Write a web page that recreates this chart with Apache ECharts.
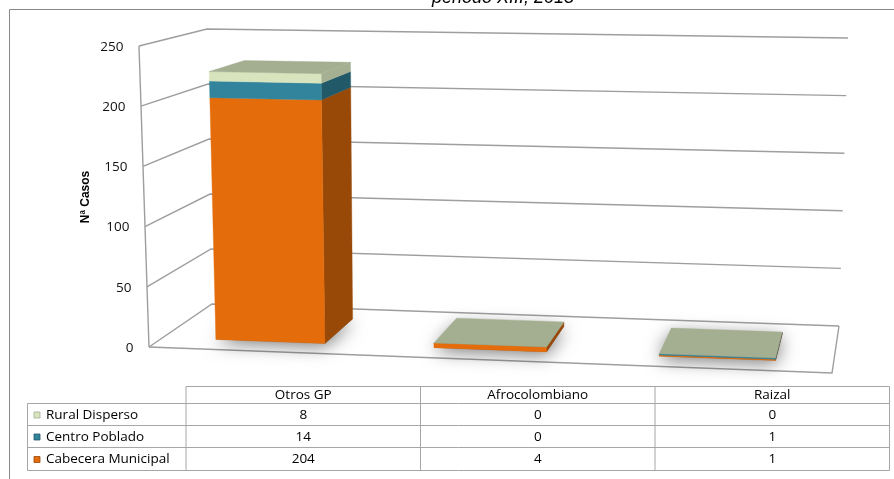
<!DOCTYPE html>
<html>
<head>
<meta charset="utf-8">
<script src="https://cdn.jsdelivr.net/npm/echarts/dist/echarts.min.js"></script>
<style>
  html, body { margin: 0; padding: 0; background: #ffffff; }
  #chart { width: 894px; height: 479px; }
</style>
</head>
<body>
<div id="chart"></div>
<script>
// ---- data ----
const categories = ['Otros GP', 'Afrocolombiano', 'Raizal'];
const cabeceraMunicipal = [204, 4, 1];
const centroPoblado = [14, 0, 1];
const ruralDisperso = [8, 0, 0];
const yTicks = [0, 50, 100, 150, 200, 250];
const seriesNames = ['Cabecera Municipal', 'Centro Poblado', 'Rural Disperso'];
const titleText = 'periodo XIII, 2013';
const axisTitle = 'Nª Casos';

// stacking order, bottom to top
const stacks = [cabeceraMunicipal, centroPoblado, ruralDisperso];

// face colours per series: front, right side, top
const faceColors = [
  { front: '#E46C0A', side: '#984807', top: '#F29A52', key: '#E46C0A' },
  { front: '#31849B', side: '#215968', top: '#4A9BB0', key: '#31849B' },
  { front: '#D7E4BD', side: '#A5B092', top: '#A4AE90', key: '#D7E4BD' }
];

// ---- perspective box: screen corners of the plot cube ----
// F/B = front/back, L/R = left/right, B/T = bottom/top
const BOX = {
  FLB: [149, 347], FLT: [139, 46], FRB: [832, 373], FRT: [843, 58],
  BLB: [212, 304], BLT: [207, 29], BRB: [839, 326], BRT: [848, 38]
};
const DEPTH_FRONT = 0.22, DEPTH_BACK = 0.78;   // bar depth inside the box
const BAR_FRACTION = 0.504;                     // bar width relative to category band
const PERSPECTIVE_K = 1.05;                     // horizontal foreshortening

function lerp2(a, b, t) { return [a[0] + (b[0] - a[0]) * t, a[1] + (b[1] - a[1]) * t]; }
function project(u, v, w) {
  const f = lerp2(lerp2(BOX.FLB, BOX.FRB, u), lerp2(BOX.FLT, BOX.FRT, u), v);
  const b = lerp2(lerp2(BOX.BLB, BOX.BRB, u), lerp2(BOX.BLT, BOX.BRT, u), v);
  return lerp2(f, b, w);
}
function warpU(u) { return u / (PERSPECTIVE_K - (PERSPECTIVE_K - 1) * u); }

// normalised position of a value pair inside the (hidden) cartesian grid
function toUnit(params, api, cat, val) {
  const cs = params.coordSys;
  const p = api.coord([cat, val]);
  return [(p[0] - cs.x) / cs.width, (cs.y + cs.height - p[1]) / cs.height];
}
function halfBand(params, api) {
  return api.size([1, 0])[0] * BAR_FRACTION / 2 / params.coordSys.width;
}
function poly(points, fill, style) {
  return {
    type: 'polygon',
    shape: { points: points },
    style: Object.assign({ fill: fill, stroke: fill, lineWidth: 0.4 }, style || {})
  };
}

// ---- walls, floor, gridlines and value labels ----
function renderWalls(params, api) {
  const t = api.value(1);
  const v = toUnit(params, api, 0, t)[1];
  const gridStyle = { stroke: '#9E9E9E', lineWidth: 1.4, fill: 'none' };
  const fl = project(0, v, 0), bl = project(0, v, 1), br = project(1, v, 1);
  const children = [
    { type: 'polyline', shape: { points: [fl, bl, br] }, style: gridStyle },
    {
      type: 'text', x: fl[0] - 15.5, y: fl[1] + 1,
      style: {
        text: String(t), align: 'right', verticalAlign: 'middle',
        textAlign: 'right', textVerticalAlign: 'middle',
        fontSize: 13.5, fontFamily: 'Open Sans', fill: '#111111'
      }
    }
  ];
  if (t === yTicks[0]) {
    // front edge of the left wall and the visible floor edges
    children.push({ type: 'line', shape: { x1: BOX.FLB[0], y1: BOX.FLB[1], x2: BOX.FLT[0], y2: BOX.FLT[1] }, style: gridStyle });
    children.push({ type: 'polyline', shape: { points: [project(0, v, 0), project(1, v, 0), project(1, v, 1)] }, style: gridStyle });
  }
  return { type: 'group', children: children };
}

// ---- soft shadow on the floor under every column ----
function renderShadow(params, api) {
  const cat = api.value(0);
  const u = toUnit(params, api, cat, 0)[0];
  const h = halfBand(params, api);
  const ua = warpU(u - h), ub = warpU(u + h);
  const pts = [project(ua, 0, DEPTH_FRONT), project(ub, 0, DEPTH_FRONT),
               project(ub, 0, DEPTH_BACK), project(ua, 0, DEPTH_BACK)];
  return poly(pts, 'rgba(90,90,90,0.7)', {
    stroke: null, shadowBlur: 18,
    shadowColor: 'rgba(0,0,0,0.75)', shadowOffsetX: 0, shadowOffsetY: 3
  });
}

// ---- one stacked segment drawn as a box ----
function makeSegmentRenderer(k) {
  return function (params, api) {
    const cat = api.value(0);
    let base = 0;
    for (let j = 0; j < k; j++) base += stacks[j][cat];
    const top = base + api.value(1);
    const p0 = toUnit(params, api, cat, base);
    const p1 = toUnit(params, api, cat, top);
    const h = halfBand(params, api);
    const ua = warpU(p0[0] - h), ub = warpU(p0[0] + h);
    const v0 = p0[1], v1 = p1[1];
    const c = faceColors[k];
    const children = [];
    if (v1 > v0) {
      // right side
      children.push(poly([project(ub, v0, DEPTH_FRONT), project(ub, v0, DEPTH_BACK),
                          project(ub, v1, DEPTH_BACK), project(ub, v1, DEPTH_FRONT)], c.side));
      // front
      children.push(poly([project(ua, v0, DEPTH_FRONT), project(ub, v0, DEPTH_FRONT),
                          project(ub, v1, DEPTH_FRONT), project(ua, v1, DEPTH_FRONT)], c.front));
    }
    // top lid only on the uppermost series of the stack
    if (k === stacks.length - 1) {
      children.push(poly([project(ua, v1, DEPTH_FRONT), project(ub, v1, DEPTH_FRONT),
                          project(ub, v1, DEPTH_BACK), project(ua, v1, DEPTH_BACK)], c.top));
    }
    return { type: 'group', children: children };
  };
}

const totals = categories.map((c, i) => stacks.reduce((s, arr) => s + arr[i], 0));

const series = [
  {
    type: 'custom', name: 'walls', z: 1, clip: false, silent: true,
    renderItem: renderWalls,
    data: yTicks.map(t => [0, t])
  },
  {
    type: 'custom', name: 'shadow', z: 2, clip: false, silent: true,
    renderItem: renderShadow,
    data: totals.map((t, i) => [i, t])
  }
];
stacks.forEach((arr, k) => {
  series.push({
    type: 'custom', name: seriesNames[k], z: 3 + k, clip: false,
    renderItem: makeSegmentRenderer(k),
    data: arr.map((val, i) => [i, val])
  });
});

// ---- data table under the plot ----
const tableFont = { fontSize: 13.5, fontFamily: 'Open Sans', fill: '#000000' };
const colEdges = [186, 420.5, 655, 889.5];
const rowEdges = [386.5, 403.5, 425.5, 447.5, 470.5];
const legendLeft = 27.5;
const tableLine = { stroke: '#A6A6A6', lineWidth: 1 };
const tableRows = [
  { name: seriesNames[2], values: ruralDisperso, color: faceColors[2] },
  { name: seriesNames[1], values: centroPoblado, color: faceColors[1] },
  { name: seriesNames[0], values: cabeceraMunicipal, color: faceColors[0] }
];

function textEl(x, y, text, align, extra) {
  return {
    type: 'text', x: x, y: y, silent: true,
    style: Object.assign({
      text: text, align: align, verticalAlign: 'middle',
      textAlign: align, textVerticalAlign: 'middle'
    }, tableFont, extra || {})
  };
}

const graphics = [];
// chart frame
graphics.push({
  type: 'polyline', silent: true,
  shape: { points: [[9.5, 600], [9.5, 9.5], [1000, 9.5]] },
  style: { stroke: '#888888', lineWidth: 1, fill: 'none' }
});
// title (last line visible)
graphics.push(textEl(503, -2.5, titleText, 'center', { fontSize: 18, fontStyle: 'italic', fontFamily: 'Liberation Sans' }));
// value axis title
graphics.push({
  type: 'text', x: 86, y: 197, rotation: Math.PI / 2, silent: true,
  style: {
    text: axisTitle, align: 'center', verticalAlign: 'middle',
    textAlign: 'center', textVerticalAlign: 'middle',
    fontSize: 12, fontWeight: 'bold', fontFamily: 'Liberation Sans', fill: '#000000'
  }
});
// table grid
graphics.push({ type: 'line', silent: true, shape: { x1: colEdges[0], y1: rowEdges[0], x2: colEdges[3], y2: rowEdges[0] }, style: tableLine });
for (let r = 1; r < rowEdges.length; r++) {
  graphics.push({ type: 'line', silent: true, shape: { x1: legendLeft, y1: rowEdges[r], x2: colEdges[3], y2: rowEdges[r] }, style: tableLine });
}
graphics.push({ type: 'line', silent: true, shape: { x1: legendLeft, y1: rowEdges[1], x2: legendLeft, y2: rowEdges[4] }, style: tableLine });
colEdges.forEach(x => {
  graphics.push({ type: 'line', silent: true, shape: { x1: x, y1: rowEdges[0], x2: x, y2: rowEdges[4] }, style: tableLine });
});
// header
categories.forEach((c, i) => {
  graphics.push(textEl((colEdges[i] + colEdges[i + 1]) / 2, (rowEdges[0] + rowEdges[1]) / 2 + 0.5, c, 'center'));
});
// rows
tableRows.forEach((row, r) => {
  const yc = (rowEdges[r + 1] + rowEdges[r + 2]) / 2 + 0.5;
  graphics.push({
    type: 'rect', silent: true,
    shape: { x: 34, y: yc - 3, width: 6, height: 6 },
    style: { fill: row.color.key, stroke: row.color.side, lineWidth: 0.8 }
  });
  graphics.push(textEl(46, yc, row.name, 'left'));
  row.values.forEach((val, i) => {
    graphics.push(textEl((colEdges[i] + colEdges[i + 1]) / 2, yc, String(val), 'center'));
  });
});

const chart = echarts.init(document.getElementById('chart'), null, { renderer: 'canvas' });
chart.setOption({
  animation: false,
  backgroundColor: '#ffffff',
  grid: { left: 149, top: 46, width: 683, height: 301 },
  xAxis: { type: 'category', data: categories, show: false },
  yAxis: { type: 'value', min: 0, max: 250, interval: 50, show: false },
  graphic: graphics,
  series: series
});
</script>
</body>
</html>
